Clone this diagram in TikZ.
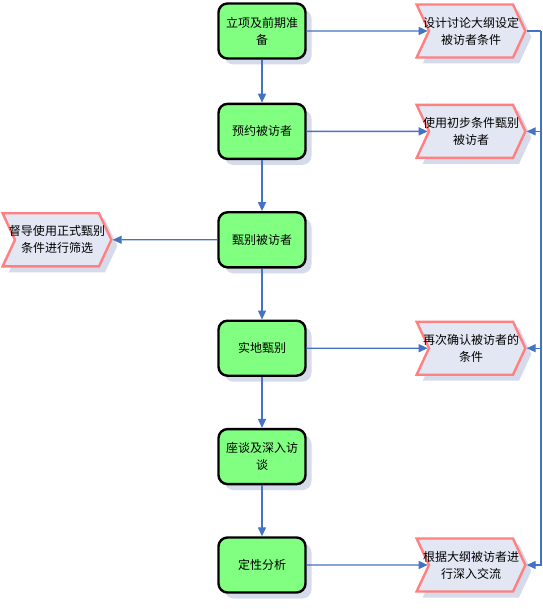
\documentclass[tikz,border=0pt]{standalone}
\usepackage{fontspec}
\newfontfamily\cjk{Noto Sans CJK SC}
\usepackage{tikz}
\usetikzlibrary{positioning,shapes.symbols,shadows,arrows.meta}

\definecolor{stepgreen}{RGB}{128,255,128}
\definecolor{notefill}{RGB}{226,231,243}
\definecolor{noteline}{RGB}{255,128,128}
\definecolor{shadowgrey}{RGB}{214,219,235}
\definecolor{linkblue}{RGB}{68,114,196}

% two centred lines that may run past the notches
\newcommand{\notelines}[2]{\makebox[84pt]{#1}\\\makebox[84pt]{#2}}

\begin{document}
\begin{tikzpicture}[x=1pt, y=1pt, node distance=51pt,
    stepbox/.style={rectangle, draw, line width=2.4pt, fill=stepgreen, rounded corners=9pt, minimum width=87pt, minimum height=55pt, text width=76pt, align=center, inner sep=0pt, font=\cjk\fontsize{12}{17}\selectfont, drop shadow={shadow xshift=6pt, shadow yshift=-6pt, fill=shadowgrey, opacity=1}},
    note/.style={signal, signal from=west, signal to=east, signal pointer angle=130, draw=noteline, line width=2.4pt, fill=notefill, minimum height=53pt, align=center, inner sep=0pt, font=\cjk\fontsize{12}{17}\selectfont, drop shadow={shadow xshift=6pt, shadow yshift=-6pt, fill=shadowgrey, opacity=1}},
    arrow/.style={-{Triangle[length=9pt,width=8pt]}, draw=linkblue, line width=1.3pt}
]
\useasboundingbox (0,0) rectangle (542,-609);

\node[stepbox] (prep) at (262,-31) {立项及前期准\\备};
\node[stepbox, below=43pt of prep] (appoint) {预约被访者};
\node[stepbox, below=of appoint] (screen) {甄别被访者};
\node[stepbox, below=of screen] (onsite) {实地甄别};
\node[stepbox, below=of onsite] (interview) {座谈及深入访\\谈};
\node[stepbox, below=of interview] (analysis) {定性分析};

\node[note] (outline) at ([xshift=209pt]prep.center) {\notelines{设计讨论大纲设定}{被访者条件}};
\node[note] (initial) at ([xshift=209pt]appoint.center) {\notelines{使用初步条件甄别}{被访者}};
\node[note] (formal) at ([xshift=-205pt]screen.center) {\notelines{督导使用正式甄别}{条件进行筛选}};
\node[note] (confirm) at ([xshift=209pt]onsite.center) {\notelines{再次确认被访者的}{条件}};
\node[note] (indepth) at ([xshift=209pt]analysis.center) {\notelines{根据大纲被访者进}{行深入交流}};
\coordinate (rail) at (outline.east -| 541,0);

\draw[arrow] (prep) -- (appoint);
\draw[arrow] (appoint) -- (screen);
\draw[arrow] (screen) -- (onsite);
\draw[arrow] (onsite) -- (interview);
\draw[arrow] (interview) -- (analysis);

\draw[arrow] (prep.east) -- (outline);
\draw[arrow] (appoint.east) -- (initial);
\draw[arrow] (screen.west) -- (formal);
\draw[arrow] (onsite.east) -- (confirm);
\draw[arrow] (analysis.east) -- (indepth);

\draw[linkblue, line width=1.3pt] (outline.east) -- (rail);
\draw[arrow] (rail) |- (initial);
\draw[arrow] (rail) |- (confirm);
\draw[arrow] (rail) |- (indepth);

\end{tikzpicture}
\end{document}
